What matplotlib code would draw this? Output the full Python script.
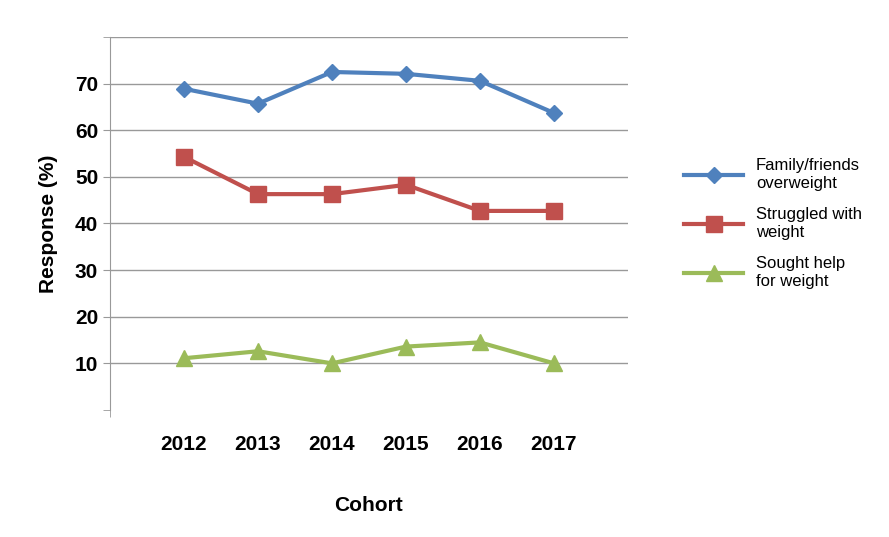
import matplotlib
matplotlib.use("Agg")
import matplotlib.pyplot as plt

cohorts = ["2012", "2013", "2014", "2015", "2016", "2017"]
family = [68.9, 65.7, 72.5, 72.1, 70.6, 63.7]
struggled = [54.3, 46.3, 46.3, 48.3, 42.7, 42.7]
sought = [11.1, 12.6, 10.0, 13.6, 14.5, 10.0]
yticks = [10, 20, 30, 40, 50, 60, 70]

plt.rcParams["font.family"] = "Liberation Sans"
fig = plt.figure(figsize=(8.89, 5.37), dpi=100)
ax = fig.add_axes([0.1237, 0.2365, 0.5827, 0.6946])

x = list(range(1, len(cohorts) + 1))
ax.plot(x, family, color="#4F81BD", lw=3, marker="D", ms=8, label="Family/friends\noverweight")
ax.plot(x, struggled, color="#C0504D", lw=3, marker="s", ms=11, label="Struggled with\nweight")
ax.plot(x, sought, color="#9BBB59", lw=3, marker="^", ms=11, label="Sought help\nfor weight")

ax.set_xlim(0, 7)
ax.set_ylim(0, 80)
ax.set_yticks(yticks)
ax.set_yticks([0, 80], minor=True)
ax.set_yticklabels([str(v) for v in yticks], fontsize=15, fontweight="bold")
ax.yaxis.grid(True, which="major", color="#999999", lw=1)
ax.axhline(80, color="#999999", lw=1, zorder=0)
ax.set_axisbelow(True)
ax.set_xticks(x)
ax.set_xticklabels(cohorts, fontsize=15, fontweight="bold")
ax.tick_params(axis="x", which="major", length=0, pad=18)
ax.set_xticks([0, 2, 4, 6], minor=True)
ax.tick_params(axis="x", which="minor", length=5, color="#999999")
ax.tick_params(axis="y", which="both", length=5, color="#999999")
for s in ["top", "right"]:
    ax.spines[s].set_visible(False)
ax.spines["bottom"].set_visible(False)
ax.spines["left"].set_color("#999999")
ax.set_xlabel("Cohort", fontsize=15, fontweight="bold", labelpad=30)
ax.set_ylabel("Response (%)", fontsize=15, fontweight="bold", labelpad=12)

ax.legend(loc="center left", bbox_to_anchor=(1.08, 0.5), frameon=False,
          fontsize=12, handlelength=3.5, labelspacing=1.0)

fig.savefig("out.png", dpi=100)
